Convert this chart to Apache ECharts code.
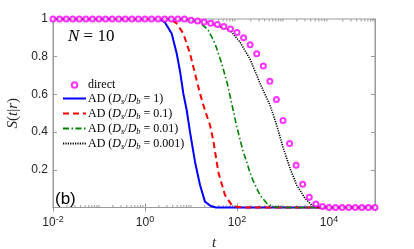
<!DOCTYPE html>
<html><head><meta charset="utf-8">
<script src="https://cdn.jsdelivr.net/npm/echarts@6/dist/echarts.min.js"></script>
<style>html,body{margin:0;padding:0;background:#fff}#c{width:414px;height:249px}</style>
</head><body><div id="c"></div>
<script>
// ---- data ----
const directT = [0.01,0.0139,0.0193,0.0268,0.0373,0.0518,0.0720,
  0.1,0.139,0.193,0.268,0.373,0.518,0.720,
  1,1.39,1.93,2.68,3.73,5.18,7.20,
  10,13.9,19.3,26.8,37.3,51.8,72.0,
  100,139,193,268,373,518,720,
  1000,1390,1930,2680,3730,5180,7200,
  10000,13900,19300,26800,37300,51800,72000,100000];
const directS = [1,1,1,1,1,1,1,
  1,1,1,1,1,1,1,
  1,1,1,1,1,1,1,
  0.993,0.989,0.984,0.977,0.971,0.960,0.947,
  0.928,0.900,0.864,0.816,0.751,0.670,0.573,
  0.462,0.340,0.224,0.124,0.054,0.019,0.005,
  0,0,0,0,0,0,0,0];

const ad1T = [0.01,1.49,2.12,2.72,3.80,4.89,5.77,6.81,8.07,9.51,12.2,15.7,20.1,26.8,34.9,100000];
const ad1S = [1,1,0.998,0.982,0.923,0.817,0.723,0.605,0.516,0.401,0.243,0.119,0.031,0.008,0,0];

const ad01T = [0.01,3.49,4.89,6.81,9.51,12.2,15.7,20.1,25.9,30.5,39.2,54.8,76.7,98.4,130,100000];
const ad01S = [1,1,0.976,0.923,0.817,0.711,0.605,0.516,0.437,0.357,0.188,0.066,0.013,0.004,0,0];

const ad001T = [0.01,6.81,15.7,23.8,33.3,46.5,61.5,76.7,98.4,137,163,192,226,316,443,616,900,100000];
const ad001S = [1,1,0.981,0.940,0.870,0.764,0.658,0.552,0.430,0.294,0.241,0.183,0.140,0.066,0.022,0.004,0,0];

const ad0001T = [0.01,6.81,21.9,70.5,116,192,316,521,729,1016,1420,1986,3006,4207,6368,100000];
const ad0001S = [1,1,0.984,0.940,0.878,0.787,0.659,0.543,0.437,0.314,0.208,0.119,0.049,0.013,0,0];

const ratioLabels = ['1','0.1','0.01','0.001'];
const seriesNames = ['direct','AD1','AD01','AD001','AD0001'];
const yTickValues = [0.2,0.4,0.6,0.8,1];
const xLabelExponents = [-2,0,2,4];
const minorTickValues = [];
[0.01,0.1,1,10,100,1000,10000].forEach(d=>{[2,3,4,5,6,7,8,9].forEach(m=>minorTickValues.push(+(d*m).toPrecision(3)));});
[0.1,10,1000,100000].forEach(v=>minorTickValues.push(v));

// ---- chart ----
const pair = (T,S)=>T.map((t,i)=>[t,S[i]]);
const chart = echarts.init(document.getElementById('c'), null, {renderer:'canvas'});
const axisColor = '#9a9a9a';
const txtColor = '#262626';
const sans = 'Liberation Sans, Arial, sans-serif';
const serif = 'Liberation Serif, Times New Roman, serif';

const lineSeries = (name, T, S, color, type, width) => ({
  name, type:'line', data: pair(T,S), symbol:'none', clip:false,
  lineStyle:{color, width, type}, itemStyle:{color}, animation:false, z:3
});
const hiddenSym = {color:'rgba(0,0,0,0)', borderColor:'rgba(0,0,0,0)', borderWidth:0, opacity:0};

chart.setOption({
  animation:false,
  grid:{left:53, right:39, top:19, bottom:41.5, show:true, borderColor:axisColor, borderWidth:1,
        containLabel:false, outerBoundsMode:'none'},
  legend:{
    orient:'vertical', left:62, top:79, padding:0, itemGap:0,
    itemWidth:23, itemHeight:5.5,
    data: seriesNames.map((n,i)=> i===0 ? {name:n} : {name:n, itemStyle:hiddenSym}),
    formatter: (name)=>{
      const i = seriesNames.indexOf(name);
      if (i===0) return '{r|direct}';
      return '{r|AD (}{i|D}{s|s}{r|/}{i|D}{s|b}{r| = '+ratioLabels[i-1]+')}';
    },
    textStyle:{
      color:'#000', padding:[0,0,0,-3],
      rich:{
        r:{fontFamily:serif, fontSize:12, lineHeight:14, color:'#000'},
        i:{fontFamily:serif, fontStyle:'italic', fontSize:12, lineHeight:14, color:'#000'},
        s:{fontFamily:serif, fontStyle:'italic', fontSize:8.5, lineHeight:8, padding:[6,0,0,0], color:'#000'}
      }
    }
  },
  xAxis:[{
    type:'log', min:0.01, max:100000, interval:2, logBase:10,
    name:'t', nameLocation:'middle', nameGap:25,
    nameTextStyle:{fontFamily:serif, fontStyle:'italic', fontSize:15, color:txtColor},
    axisLine:{show:true, lineStyle:{color:axisColor}},
    axisTick:{show:true, inside:true, length:4, lineStyle:{color:axisColor}},
    splitLine:{show:false},
    axisLabel:{
      color:txtColor, fontFamily:sans, fontSize:12, lineHeight:15, margin:8,
      formatter:(v)=>{ const e = Math.round(Math.log10(v)); return xLabelExponents.includes(e) ? '10{sup|'+e+'}' : ''; },
      rich:{sup:{fontFamily:sans, fontSize:9, lineHeight:9, padding:[0,0,6,0], color:txtColor}}
    }
  },{
    type:'log', min:0.01, max:100000, interval:2, logBase:10, position:'top',
    axisLine:{show:true, lineStyle:{color:axisColor}},
    axisTick:{show:true, inside:true, length:4, lineStyle:{color:axisColor}},
    axisLabel:{show:false}, splitLine:{show:false}
  }],
  yAxis:[{
    type:'value', min:0, max:1, interval:0.2,
    name:'{i|S}{r|(}{i|t}{r||}{i|r}{r|)}', nameLocation:'middle', nameGap:30, nameRotate:90,
    nameTextStyle:{rich:{
      i:{fontFamily:serif, fontStyle:'italic', fontSize:15, color:txtColor},
      r:{fontFamily:serif, fontSize:15, color:txtColor}
    }},
    axisLine:{show:true, lineStyle:{color:axisColor}},
    axisTick:{show:true, inside:true, length:4, lineStyle:{color:axisColor}},
    splitLine:{show:false},
    axisLabel:{color:txtColor, fontFamily:sans, fontSize:12, margin:5,
      formatter:(v)=> yTickValues.some(t=>Math.abs(t-v)<1e-9) ? String(+v.toFixed(1)) : ''}
  },{
    type:'value', min:0, max:1, interval:0.2, position:'right',
    axisLine:{show:true, lineStyle:{color:axisColor}},
    axisTick:{show:true, inside:true, length:4, lineStyle:{color:axisColor}},
    axisLabel:{show:false}, splitLine:{show:false}
  }],
  graphic:[
    {type:'text', left:68, top:28.5, style:{rich:{
        i:{fontFamily:serif, fontStyle:'italic', fontSize:17, fill:'#000'},
        r:{fontFamily:serif, fontSize:17, fill:'#000'}},
      text:'{i|N}{r| = 10}'}},
    {type:'text', left:55, top:191, style:{text:'(b)', fontFamily:sans, fontSize:17, fill:'#000'}}
  ],
  series:[
    {type:'custom', name:'minor', silent:true, xAxisIndex:0, yAxisIndex:0,
     data: minorTickValues.map(v=>[v,0]), clip:false, z:1,
     renderItem:(params, api)=>{
       const b = api.coord([api.value(0),0]);
       const t = api.coord([api.value(0),1]);
       return {type:'group', children:[
         {type:'line', shape:{x1:b[0],y1:b[1],x2:b[0],y2:b[1]-2.5}, style:{stroke:axisColor, lineWidth:1}},
         {type:'line', shape:{x1:t[0],y1:t[1],x2:t[0],y2:t[1]+2.5}, style:{stroke:axisColor, lineWidth:1}}
       ]};
     }},
    lineSeries('AD1', ad1T, ad1S, '#0000ff', 'solid', 2),
    lineSeries('AD01', ad01T, ad01S, '#ff0000', [6,4], 2),
    lineSeries('AD001', ad001T, ad001S, '#008000', [6,2.5,1.5,2.5], 1.6),
    lineSeries('AD0001', ad0001T, ad0001S, '#000000', [1.2,1.2], 1.6),
    {name:'direct', type:'scatter', data: pair(directT, directS), symbol:'emptyCircle', symbolSize:5,
     clip:false, itemStyle:{color:'#ff00ff', borderColor:'#ff00ff', borderWidth:1}, z:4}
  ]
});
</script>
</body></html>
